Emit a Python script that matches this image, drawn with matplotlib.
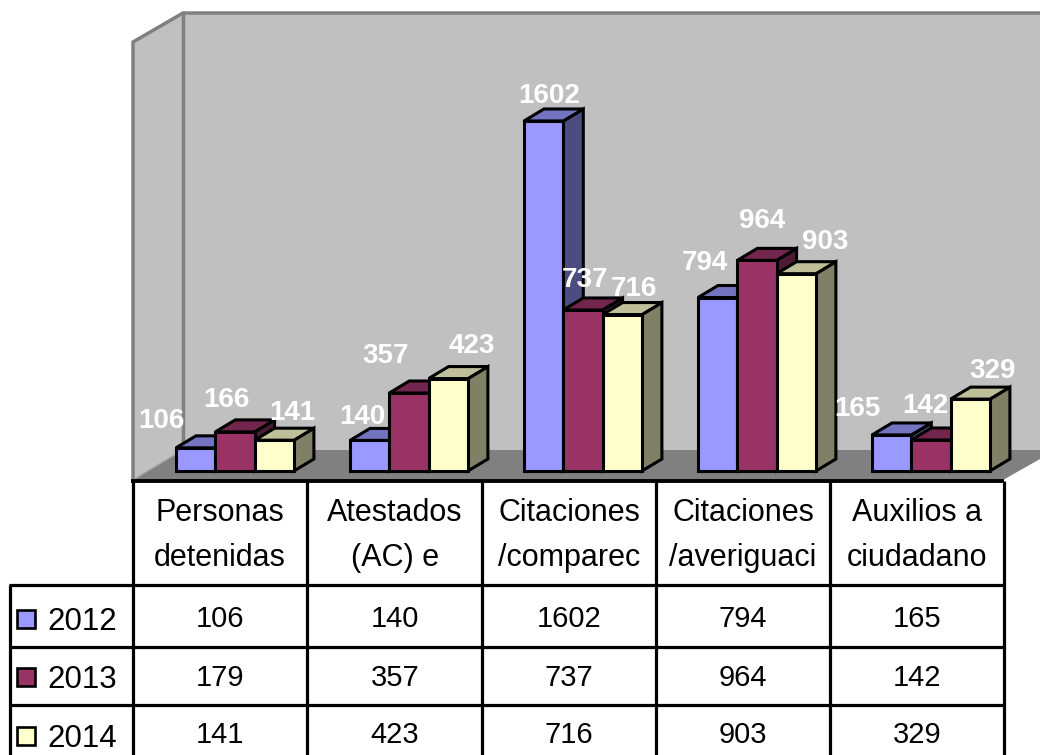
import matplotlib
matplotlib.use("Agg")
import matplotlib.pyplot as plt
from matplotlib.patches import Polygon, Rectangle

plt.rcParams['font.family'] = ['Liberation Sans', 'DejaVu Sans']

years = ['2012', '2013', '2014']
categories = [['Personas', 'detenidas'], ['Atestados', '(AC) e'], ['Citaciones', '/comparec'],
              ['Citaciones', '/averiguaci'], ['Auxilios a', 'ciudadano']]
v2012 = [106, 140, 1602, 794, 165]
v2013 = [179, 357, 737, 964, 142]
v2014 = [141, 423, 716, 903, 329]
series = [v2012, v2013, v2014]
# data labels printed on the chart (first 2013 label differs from the table)
l2012 = ['106', '140', '1602', '794', '165']
l2013 = ['166', '357', '737', '964', '142']
l2014 = ['141', '423', '716', '903', '329']
labels = [l2012, l2013, l2014]
# label offset from bar top centre, pixels (x, up)
off2012 = [(-34, 27), (-7, 23), (6, 25), (-13, 35), (-34, 26)]
off2013 = [(-9, 32), (-23, 37), (2, 30), (5, 39), (-6, 34)]
off2014 = [(18, 27), (24, 33), (12, 26), (29, 32), (22, 28)]
offsets = [off2012, off2013, off2014]

front = ['#9999FF', '#993366', '#FFFFCC']
side = ['#4C4C80', '#4D1A33', '#808066']
top = ['#7373BF', '#73264D', '#BFBF99']

W, H = 1040, 755
fig = plt.figure(figsize=(W / 100, H / 100), dpi=100)
bg = fig.add_axes([0, 0, 1, 1])
bg.set_xlim(0, W)
bg.set_ylim(H, 0)
bg.axis('off')

GRAY = '#808080'
WALL = '#C0C0C0'
# walls and floor
bg.add_patch(Polygon([(183, 13), (1040, 13), (1040, 450), (183, 450)], fc=WALL, ec='none'))
bg.add_patch(Polygon([(133, 42), (183, 13), (183, 450), (133, 480)], fc=WALL, ec='none'))
bg.add_patch(Polygon([(133, 480), (183, 450), (1040, 450), (1040, 459), (1003, 480)], fc=GRAY, ec='none'))
bg.plot([133, 133, 183, 1040], [480, 42, 13, 13], color=GRAY, lw=2.5, solid_joinstyle='miter')
bg.plot([183, 183], [13, 450], color=GRAY, lw=2.5)
bg.plot([133, 183], [480, 450], color='#A0A0A0', lw=1)

# table
LW = 2.3
col_x = [133, 307, 482, 656, 830, 1004]
for x in col_x:
    bg.plot([x, x], [481, H], color='black', lw=LW, solid_capstyle='butt')
bg.plot([10, 10], [585, H], color='black', lw=LW, solid_capstyle='butt')
bg.plot([131, 1004], [481, 481], color='black', lw=2.8, solid_capstyle='butt')
for y in [585, 647, 705]:
    bg.plot([9, 1004], [y, y], color='black', lw=LW, solid_capstyle='butt')

HFS = 22
FS = 21
col_c = [220, 395, 569, 743, 917]
for c, cat in zip(col_c, categories):
    bg.text(c, 513, cat[0], ha='center', va='center', fontsize=HFS, color='black')
    bg.text(c, 558, cat[1], ha='center', va='center', fontsize=HFS, color='black')
row_y = [619, 678, 735]
leg_y = [622, 680, 739]
sw_y = [610, 668, 727]
for r in range(3):
    bg.add_patch(Rectangle((17, sw_y[r]), 18, 18, fc=front[r], ec='black', lw=1.9))
    bg.text(47, leg_y[r], years[r], ha='left', va='center', fontsize=22.5, color='black')
    for c, v in zip(col_c, series[r]):
        bg.text(c, row_y[r], str(v), ha='center', va='center', fontsize=FS, color='black')

# bars: 0 at y=471 px, 0.2185 px per unit; one category = 174 px
PX_PER_UNIT = 0.2185
ax = fig.add_axes([133 / W, (H - 471) / H, 870 / W, 471 / H])
ax.set_xlim(0, 5)
ax.set_ylim(0, 471 / PX_PER_UNIT)
ax.axis('off')
ax.patch.set_alpha(0)

start = 43 / 174
bw = 39.3 / 174
dx = 20 / 174
dy = 12 / PX_PER_UNIT
z = 3
EW = 2.2
for g in range(5):
    for s in range(3):
        v = series[s][g]
        x0 = g + start + s * bw
        x1 = x0 + bw
        ax.add_patch(Polygon([(x1, 0), (x1 + dx, dy), (x1 + dx, v + dy), (x1, v)], fc=side[s], ec='black',
                             lw=EW, joinstyle='miter', zorder=z, clip_on=False))
        ax.add_patch(Polygon([(x0, v), (x0 + dx, v + dy), (x1 + dx, v + dy), (x1, v)], fc=top[s], ec='black',
                             lw=EW, joinstyle='miter', zorder=z + 0.1, clip_on=False))
        ax.bar(x0, v, width=bw, align='edge', color=front[s], edgecolor='black', linewidth=EW,
               zorder=z + 0.2, clip_on=False)
        z += 1
for s in range(3):
    for g in range(5):
        v = series[s][g]
        xc = g + start + (s + 0.5) * bw
        ax.annotate(labels[s][g], xy=(xc, v), xytext=offsets[s][g], textcoords='offset pixels',
                    ha='center', va='center', fontsize=20, fontweight='bold', color='white',
                    annotation_clip=False, zorder=100)

fig.savefig('out.png', dpi=100)
